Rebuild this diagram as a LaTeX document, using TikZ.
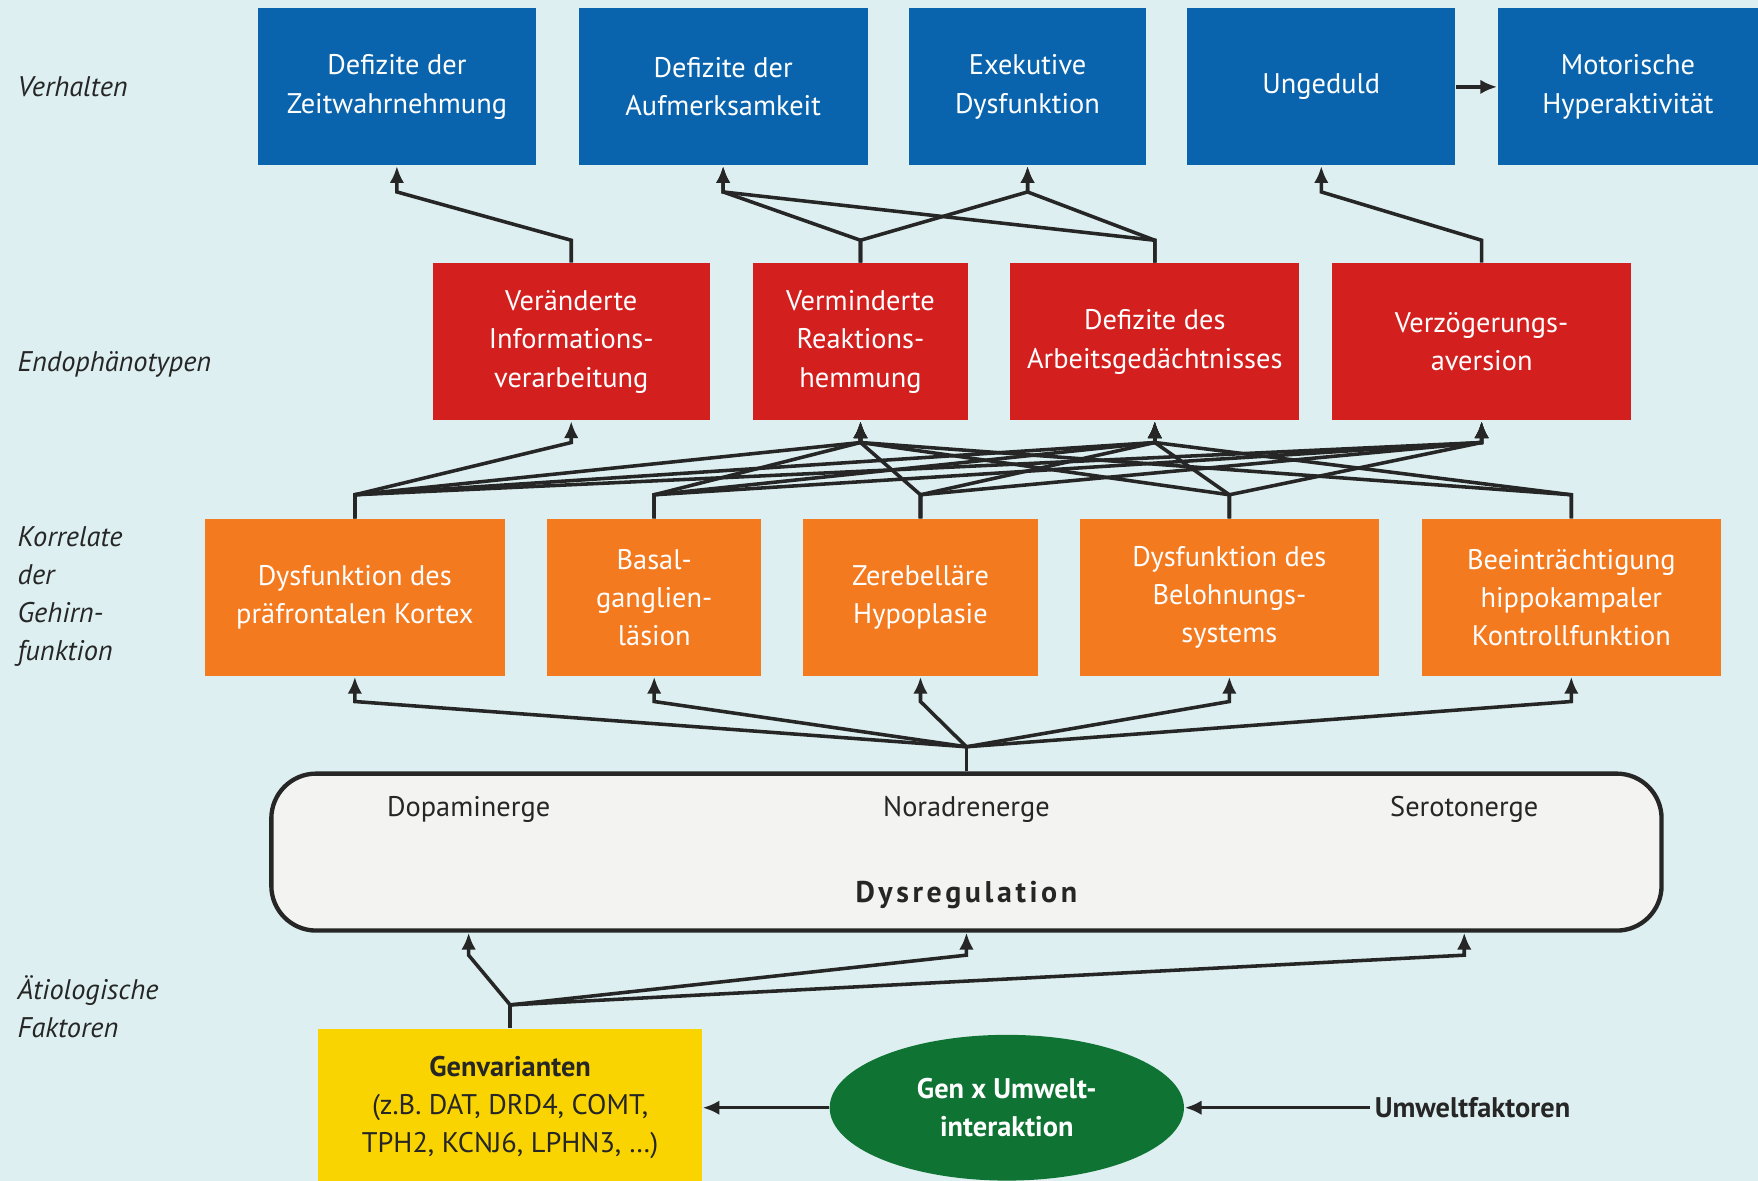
\documentclass[tikz,border=0pt]{standalone}
\usepackage{fontspec}
\setsansfont{PT Sans}
\usepackage{xcolor}
\usetikzlibrary{positioning,arrows.meta,calc,shapes.geometric}
\definecolor{bgpage}{HTML}{DDEFF0}
\definecolor{verh}{HTML}{0A64AD}
\definecolor{endo}{HTML}{D3201F}
\definecolor{hirn}{HTML}{F47A20}
\definecolor{gene}{HTML}{FAD400}
\definecolor{umw}{HTML}{0F7433}
\definecolor{ink}{HTML}{262626}
\definecolor{dysfill}{HTML}{F3F3F1}

\begin{document}
\begin{tikzpicture}[x=0.1mm, y=-0.1mm,
  font=\sffamily\fontsize{7.2}{9.7}\selectfont, >={Latex[length=1.5mm,width=1.3mm]},
  box/.style={minimum height=14mm, text=white, align=center, inner sep=1pt},
  vb/.style={box, fill=verh},
  eb/.style={box, fill=endo},
  hb/.style={box, fill=hirn},
  ln/.style={draw=ink, line width=0.9pt},
  lay/.style={anchor=west, align=left, inner sep=0pt, text=ink, font=\sffamily\itshape\fontsize{7.2}{9.7}\selectfont},
  sys/.style={text=ink}]
\useasboundingbox (0,0) rectangle (1568,1053);
\clip (0,0) rectangle (1568,1053);
\fill[bgpage] (0,0) rectangle (1568,1053);
% ---------------- layer labels
\node[lay] (lv) at (15,77) {Verhalten};
\node[lay] (le) at (15,325) {Endophänotypen};
\node[lay] (lk) at (15,532) {Korrelate\\der\\Gehirn-\\funktion};
\node[lay] (la) at (15,898) {Ätiologische\\Faktoren};
% ---------------- Verhalten
\node[vb, minimum width=24.8mm] (b1) at (354,77.5) {Defizite der\\Zeitwahrnehmung};
\node[vb, minimum width=25.8mm] (b2) at (645,77.5) {Defizite der\\Aufmerksamkeit};
\node[vb, minimum width=21.1mm] (b3) at (916.5,77.5) {Exekutive\\Dysfunktion};
\node[vb, minimum width=23.9mm] (b4) at (1178.5,77.5) {Ungeduld};
\node[vb, minimum width=23.2mm] (b5) at (1452,77.5) {Motorische\\Hyperaktivität};
\draw[ln,->] (b4.east) -- (b5.west);
% ---------------- Endophaenotypen
\node[eb, minimum width=24.7mm] (r1) at (509.5,305) {Veränderte\\Informations-\\verarbeitung};
\node[eb, minimum width=19.1mm] (r2) at (767.5,305) {Verminderte\\Reaktions-\\hemmung};
\node[eb, minimum width=25.8mm] (r3) at (1030,305) {Defizite des\\Arbeitsgedächtnisses};
\node[eb, minimum width=26.7mm] (r4) at (1321.5,305) {Verzögerungs-\\aversion};
\foreach \r/\b in {r1/b1,r2/b2,r2/b3,r3/b2,r3/b3,r4/b4}
  \draw[ln,->] (\r.north) -- ++(0,-20) -- ($(\b.south)+(0,23)$) -- (\b.south);
% ---------------- Korrelate der Gehirnfunktion
\node[hb, minimum width=26.7mm] (o1) at (316.5,533) {Dysfunktion des\\präfrontalen Kortex};
\node[hb, minimum width=19.1mm] (o2) at (583.5,533) {Basal-\\ganglien-\\läsion};
\node[hb, minimum width=21mm] (o3) at (821,533) {Zerebelläre\\Hypoplasie};
\node[hb, minimum width=26.7mm] (o4) at (1096.5,533) {Dysfunktion des\\Belohnungs-\\systems};
\node[hb, minimum width=26.7mm] (o5) at (1401.5,533) {Beeinträchtigung\\hippokampaler\\Kontrollfunktion};
\foreach \o/\r in {o1/r1,o1/r2,o1/r3,o1/r4,o2/r2,o2/r3,o2/r4,o3/r2,o3/r3,o3/r4,o4/r2,o4/r3,o4/r4,o5/r2,o5/r3}
  \draw[ln,->] (\o.north) -- ++(0,-21) -- ($(\r.south)+(0,19)$) -- (\r.south);
% ---------------- Dysregulation
\node[draw=ink, line width=1.1pt, fill=dysfill, rounded corners=4mm, minimum width=124mm, minimum height=14mm] (dys) at (862,760) {};
\node[sys] (dopa) at (418,722) {Dopaminerge};
\node[sys] (nora) at (862,722) {Noradrenerge};
\node[sys] (sero) at (1306,722) {Serotonerge};
\node[sys, font=\sffamily\bfseries\fontsize{7.6}{9.7}\selectfont\addfontfeatures{LetterSpace=12}] (dysl) at (862,798) {Dysregulation};
\coordinate (dtop) at ($(dys.north)+(0,-22)$);
\draw[ln] (dys.north) -- (dtop);
\foreach \o in {o1,o2,o3,o4,o5}
  \draw[ln,->] (dtop) -- ($(\o.south)+(0,22)$) -- (\o.south);
% ---------------- Aetiologische Faktoren
\node[box, fill=gene, text=ink, minimum width=34.2mm] (gv) at (455,988) {\textbf{Genvarianten}\\(z.B. DAT, DRD4, COMT,\\TPH2, KCNJ6, LPHN3, \dots)};
\node[ellipse, fill=umw, text=white, align=center, minimum width=31.6mm, minimum height=13mm, font=\sffamily\bfseries\fontsize{7.2}{9.7}\selectfont] (gxu) at (898,988) {Gen x Umwelt-\\interaktion};
\node[anchor=west, text=ink, font=\sffamily\bfseries\fontsize{7.2}{9.7}\selectfont, inner sep=1pt] (uf) at (1222,988) {Umweltfaktoren};
\draw[ln,->] (gxu.west) -- (gv.east);
\draw[ln,->] (uf.west) -- (gxu.east);
\coordinate (gtop) at ($(gv.north)+(0,-21)$);
\draw[ln] (gv.north) -- (gtop);
\foreach \t in {dopa,nora,sero}
  \draw[ln,->] (gtop) -- ($(\t |- dys.south)+(0,20)$) -- (\t |- dys.south);
\end{tikzpicture}
\end{document}
